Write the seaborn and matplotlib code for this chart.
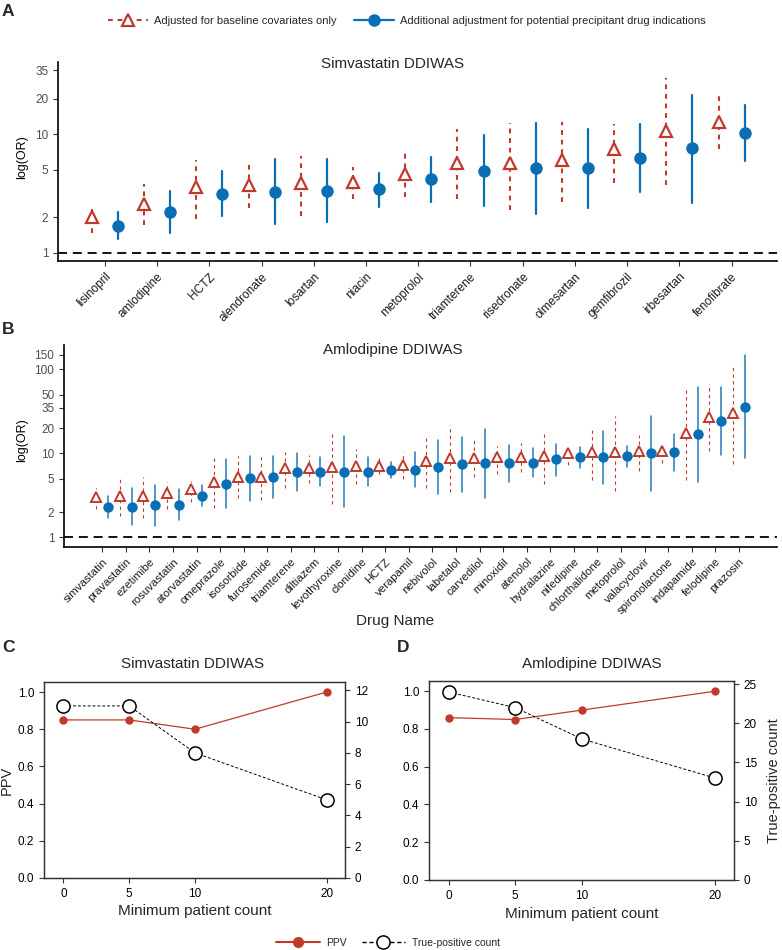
import numpy as np
import pandas as pd
import matplotlib
matplotlib.use("Agg")
import matplotlib.pyplot as plt
import matplotlib.colors as mcolors
from matplotlib.lines import Line2D
from matplotlib.ticker import FixedLocator, FixedFormatter, NullLocator
import seaborn as sns

sns.set_theme(style="ticks")
plt.rcParams["font.family"] = ["Liberation Sans", "DejaVu Sans"]

RED = "#C0392B"
BLUE = "#0A6EB4"

# ---------------- Panel A: Simvastatin DDIWAS ----------------
simva_drugs = ["lisinopril", "amlodipine", "HCTZ", "alendronate", "losartan", "niacin",
               "metoprolol", "triamterene", "risedronate", "olmesartan", "gemfibrozil",
               "irbesartan", "fenofibrate"]
simva_base_or = [1.99, 2.57, 3.60, 3.73, 3.90, 3.98, 4.62, 5.68, 5.68, 6.06, 7.46, 10.7, 12.8]
simva_base_lo = [1.47, 1.71, 1.92, 2.40, 2.04, 2.84, 2.97, 2.82, 2.29, 2.70, 3.85, 3.73, 7.46]
simva_base_hi = [2.52, 3.84, 6.12, 5.68, 6.55, 5.33, 7.00, 11.0, 12.4, 12.6, 12.2, 29.7, 21.0]
simva_full_or = [1.68, 2.22, 3.16, 3.27, 3.34, 3.43, 4.16, 4.93, 5.16, 5.16, 6.35, 7.61, 10.3]
simva_full_lo = [1.30, 1.47, 2.05, 1.73, 1.80, 2.45, 2.70, 2.48, 2.12, 2.40, 3.23, 2.65, 5.95]
simva_full_hi = [2.20, 3.31, 4.88, 6.18, 6.14, 4.68, 6.39, 9.86, 12.5, 11.2, 12.2, 21.5, 17.7]
simva_yticks = [1, 2, 5, 10, 20, 35]

# ---------------- Panel B: Amlodipine DDIWAS ----------------
amlo_drugs = ["simvastatin", "pravastatin", "ezetimibe", "rosuvastatin", "atorvastatin",
              "omeprazole", "isosorbide", "furosemide", "triamterene", "diltiazem",
              "levothyroxine", "clonidine", "HCTZ", "verapamil", "nebivolol", "labetalol",
              "carvedilol", "minoxidil", "atenolol", "hydralazine", "nifedipine",
              "chlorthalidone", "metoprolol", "valacyclovir", "spironolactone",
              "indapamide", "felodipine", "prazosin"]
amlo_base_or = [3.05, 3.13, 3.13, 3.34, 3.73, 4.52, 5.28, 5.28, 6.63, 6.63, 6.81, 7.07, 7.13, 7.26,
                8.18, 8.88, 8.88, 8.96, 9.12, 9.30, 10.0, 10.3, 10.5, 10.7, 10.8, 17.3, 27.3, 29.9]
amlo_base_lo = [2.15, 1.79, 1.71, 2.15, 2.66, 2.25, 2.91, 2.78, 3.83, 4.39, 2.49, 4.27, 5.62, 4.90,
                3.83, 3.43, 5.28, 5.68, 6.05, 4.31, 7.26, 4.81, 3.59, 6.22, 7.74, 4.81, 10.7, 7.46]
amlo_base_hi = [3.83, 4.90, 5.28, 4.60, 4.69, 8.72, 9.30, 9.30, 10.3, 9.55, 17.8, 11.3, 8.88, 10.3,
                15.8, 21.7, 14.4, 12.3, 13.2, 17.8, 12.6, 20.2, 28.1, 16.5, 13.2, 57.8, 66.9, 115]
amlo_full_or = [2.32, 2.32, 2.43, 2.43, 3.13, 4.31, 5.04, 5.18, 5.94, 6.05, 6.05, 6.05, 6.33, 6.33,
                6.81, 7.39, 7.60, 7.60, 7.74, 8.48, 8.96, 8.96, 9.30, 10.2, 10.3, 17.0, 24.5, 35.3]
amlo_full_lo = [1.68, 1.40, 1.36, 1.61, 2.38, 2.21, 2.73, 2.91, 3.56, 4.12, 2.28, 4.12, 5.04, 3.94,
                3.25, 3.43, 2.97, 4.60, 5.28, 5.42, 6.63, 4.27, 6.81, 3.59, 6.16, 4.60, 9.55, 8.72]
amlo_full_hi = [3.13, 3.83, 4.20, 3.73, 4.20, 8.48, 9.30, 9.30, 10.2, 8.96, 16.2, 9.10, 7.96, 10.5,
                14.4, 15.8, 19.5, 12.6, 11.5, 12.9, 12.0, 18.6, 12.3, 28.1, 17.0, 62.2, 62.2, 148]
amlo_yticks = [1, 2, 5, 10, 20, 35, 50, 100, 150]

# ---------------- Panels C, D ----------------
min_count = [0, 5, 10, 20]
simva_ppv = [0.85, 0.85, 0.80, 1.00]
simva_tp = [11, 11, 8, 5]
amlo_ppv = [0.86, 0.85, 0.90, 1.00]
amlo_tp = [24, 22, 18, 13]

LEG_BASE = "Adjusted for baseline covariates only"
LEG_FULL = "Additional adjustment for potential precipitant drug indications"


def long_df(drugs, b_or, b_lo, b_hi, f_or, f_lo, f_hi):
    rows = []
    for i, d in enumerate(drugs):
        for model, vals in (("base", (b_lo[i], b_or[i], b_hi[i])),
                            ("full", (f_lo[i], f_or[i], f_hi[i]))):
            for v in vals:
                rows.append({"drug": d, "model": model, "or": v})
    return pd.DataFrame(rows)


def forest(ax, df, drugs, yticks, ylim, xlim, ms_t, ms_c, mew, lw_r, lw_b, dash_r,
           xfs, blue_alpha=1.0):
    ax.set_yscale("log")
    sns.pointplot(data=df, x="drug", y="or", hue="model", order=drugs,
                  hue_order=["base", "full"], palette={"base": RED, "full": BLUE},
                  estimator="median", errorbar=lambda v: (np.min(v), np.max(v)),
                  markers=["^", "o"], linestyles=["none", "none"], dodge=0.5,
                  legend=False, ax=ax)
    for ln in ax.lines:
        is_red = mcolors.to_hex(ln.get_color()).lower() == mcolors.to_hex(RED).lower()
        mk = ln.get_marker()
        if mk in ("^", "o"):
            ln.set_zorder(4)
            if is_red:
                ln.set_markersize(ms_t)
                ln.set_markerfacecolor("white")
                ln.set_markeredgecolor(RED)
                ln.set_markeredgewidth(mew)
            else:
                ln.set_markersize(ms_c)
                ln.set_markerfacecolor(BLUE)
                ln.set_markeredgecolor(BLUE)
                ln.set_markeredgewidth(0)
        else:
            ln.set_zorder(2)
            if is_red:
                ln.set_linewidth(lw_r)
                ln.set_linestyle((0, dash_r))
            else:
                ln.set_linewidth(lw_b)
                ln.set_linestyle("-")
                ln.set_alpha(blue_alpha)
    ax.axhline(1, color="black", lw=1.3, ls=(0, (5, 3.2)), zorder=1)
    ax.set_ylim(*ylim)
    ax.set_xlim(*xlim)
    ax.yaxis.set_major_locator(FixedLocator(yticks))
    ax.yaxis.set_major_formatter(FixedFormatter([str(t) for t in yticks]))
    ax.yaxis.set_minor_locator(NullLocator())
    sns.despine(ax=ax)
    for s in ("left", "bottom"):
        ax.spines[s].set_color("black")
        ax.spines[s].set_linewidth(1.2)
    ax.tick_params(axis="y", labelsize=8.5, labelcolor="#4D4D4D", color="#333333",
                   length=3.5, width=0.8)
    ax.tick_params(axis="x", labelsize=xfs, labelcolor="#1A1A1A", color="#333333",
                   length=3.5, width=0.8)
    plt.setp(ax.get_xticklabels(), rotation=45, ha="right", va="top",
             rotation_mode="anchor")
    ax.set_xlabel("")
    ax.set_ylabel("log(OR)", fontsize=9, color="black")


def ppv_panel(ax, ppv, tp, ylim2, ticks2, left_label, right_label):
    df = pd.DataFrame({"count": min_count, "ppv": ppv, "tp": tp})
    sns.lineplot(data=df, x="count", y="ppv", color=RED, marker="o", markersize=6,
                 markeredgewidth=0, linewidth=0.9, ax=ax)
    ax2 = ax.twinx()
    sns.lineplot(data=df, x="count", y="tp", color="black", marker="o", markersize=9.5,
                 markerfacecolor="white", markeredgecolor="black", markeredgewidth=1.1,
                 linestyle="--", linewidth=0.7, ax=ax2)
    for ln in ax2.lines:
        ln.set_dashes((3, 2))
    ax.set_xlim(-1.47, 21.4)
    ax.set_ylim(0, 1.054)
    ax2.set_ylim(*ylim2)
    ax.set_xticks(min_count)
    ax.set_yticks([0, 0.2, 0.4, 0.6, 0.8, 1.0])
    ax.set_yticklabels(["0.0", "0.2", "0.4", "0.6", "0.8", "1.0"])
    ax2.set_yticks(ticks2)
    ax2.set_yticklabels([str(t) for t in ticks2])
    for a in (ax, ax2):
        for s in a.spines.values():
            s.set_color("#333333")
            s.set_linewidth(0.9)
        a.tick_params(labelsize=8.5, color="#333333", length=3.5, width=0.8,
                      labelcolor="black")
    ax.set_xlabel("Minimum patient count", fontsize=11)
    ax.set_ylabel(left_label, fontsize=10.5)
    ax2.set_ylabel(right_label, fontsize=10.5)
    ax.xaxis.set_label_coords(0.5, -0.135)
    return ax2


fig = plt.figure(figsize=(7.82, 9.5), dpi=100)
W, H = 782.0, 950.0


def box(l, t, r, b):
    return [l / W, 1 - b / H, (r - l) / W, (b - t) / H]


# Panel A
axA = fig.add_axes(box(58, 62, 777, 261))
dfA = long_df(simva_drugs, simva_base_or, simva_base_lo, simva_base_hi,
              simva_full_or, simva_full_lo, simva_full_hi)
forest(axA, dfA, simva_drugs, simva_yticks, (0.85, 40.9), (-0.9, 12.87),
       ms_t=9, ms_c=9, mew=1.6, lw_r=1.5, lw_b=1.6, dash_r=(2.3, 2.3), xfs=8.6)
axA.yaxis.set_label_coords(-0.042, 0.52)

# Panel B
axB = fig.add_axes(box(64, 345, 776.7, 546.7))
dfB = long_df(amlo_drugs, amlo_base_or, amlo_base_lo, amlo_base_hi,
              amlo_full_or, amlo_full_lo, amlo_full_hi)
forest(axB, dfB, amlo_drugs, amlo_yticks, (0.774, 195), (-1.62, 28.6),
       ms_t=7, ms_c=7.5, mew=1.4, lw_r=0.8, lw_b=1.1, dash_r=(3, 3), xfs=8.2,
       blue_alpha=0.9)
axB.yaxis.set_label_coords(-0.05, 0.53)

# Panels C, D
axC = fig.add_axes(box(44, 682, 345, 878))
ppv_panel(axC, simva_ppv, simva_tp, (0, 12.53), [0, 2, 4, 6, 8, 10, 12], "PPV", "")
axC.yaxis.set_label_coords(-0.10, 0.5)

axD = fig.add_axes(box(429, 681, 734, 880))
axD2 = ppv_panel(axD, amlo_ppv, amlo_tp, (0, 25.4), [0, 5, 10, 15, 20, 25], "",
                 "True-positive count")
axD2.yaxis.set_label_coords(1.108, 0.5)

# Titles and texts
fig.text(393 / W, 1 - 64 / H, "Simvastatin DDIWAS", ha="center", va="center", fontsize=11)
fig.text(393 / W, 1 - 350 / H, "Amlodipine DDIWAS", ha="center", va="center", fontsize=11)
fig.text(193 / W, 1 - 664 / H, "Simvastatin DDIWAS", ha="center", va="center", fontsize=11)
fig.text(592 / W, 1 - 664 / H, "Amlodipine DDIWAS", ha="center", va="center", fontsize=11)
fig.text(395 / W, 1 - 621 / H, "Drug Name", ha="center", va="center", fontsize=11)

for lab, x, y in (("A", 2, 11), ("B", 2, 330), ("C", 2, 648), ("D", 397, 647.5)):
    fig.text(x / W, 1 - y / H, lab, ha="left", va="center", fontsize=12.5,
             fontweight="bold")

# Top legend
h_base = Line2D([0], [0], color=RED, lw=1.5, ls=(0, (2.3, 2.3)), marker="^",
                markersize=9, markerfacecolor="white", markeredgecolor=RED,
                markeredgewidth=1.6)
h_full = Line2D([0], [0], color=BLUE, lw=1.6, marker="o", markersize=9,
                markerfacecolor=BLUE, markeredgewidth=0)
fig.legend([h_base, h_full], [LEG_BASE, LEG_FULL], loc="center",
           bbox_to_anchor=(407 / W, 1 - 21 / H), ncol=2, frameon=False, fontsize=8,
           handlelength=3.6, handletextpad=0.5, columnspacing=1.6)

# Bottom legend
h_ppv = Line2D([0], [0], color=RED, lw=1.5, marker="o", markersize=8,
               markeredgewidth=0)
h_tp = Line2D([0], [0], color="black", lw=1.0, ls=(0, (3, 2)), marker="o", markersize=9.5,
              markerfacecolor="white", markeredgecolor="black", markeredgewidth=1.1)
fig.legend([h_ppv, h_tp], ["PPV", "True-positive count"], loc="center",
           bbox_to_anchor=(388 / W, 1 - 943 / H), ncol=2, frameon=False, fontsize=7.5,
           handlelength=4.2, handletextpad=0.6, columnspacing=1.4)

fig.savefig("out.png", dpi=100)
